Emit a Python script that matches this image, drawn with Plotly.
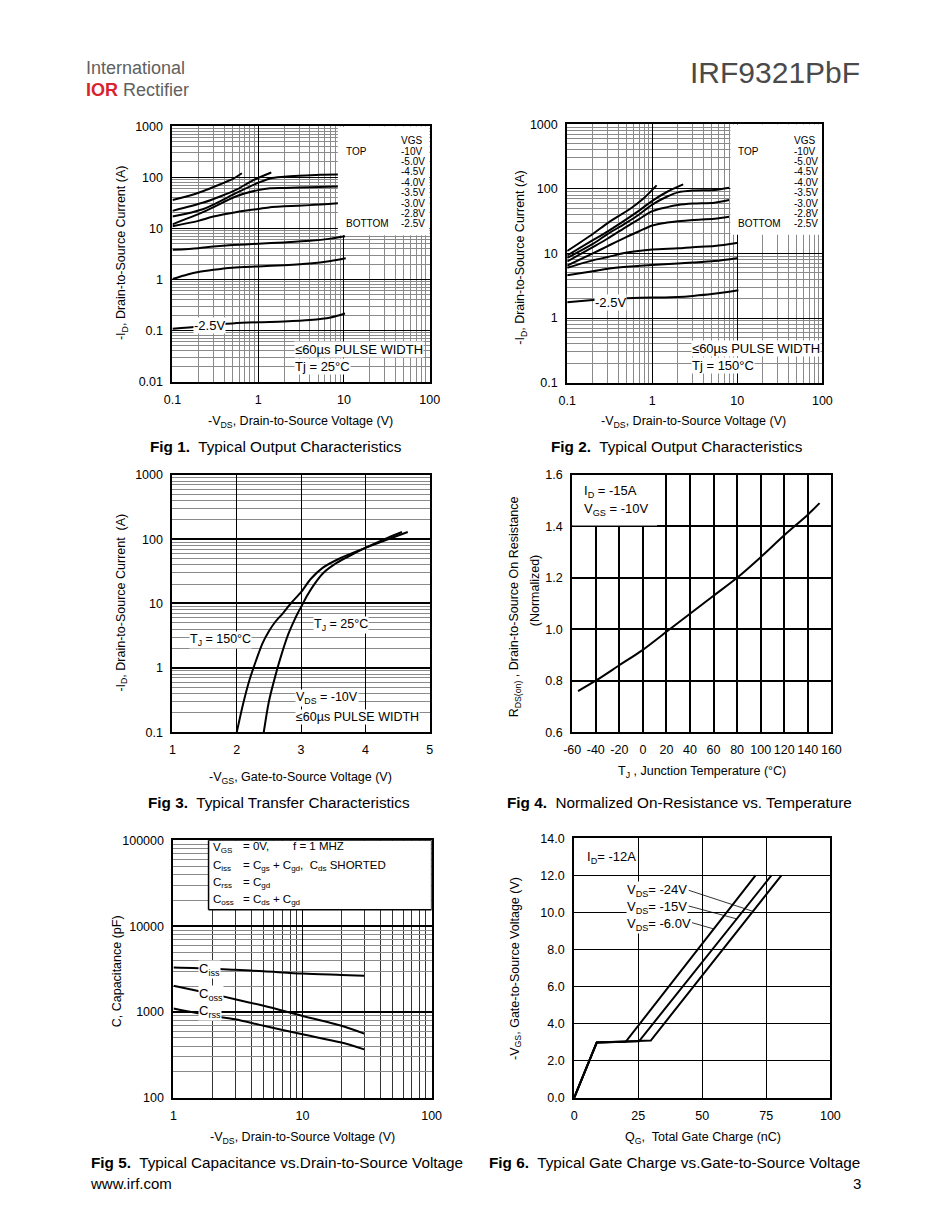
import plotly.graph_objects as go

W, H = 950, 1230
# the photographed figure lands in the page region (8..942, 8..1222);
OX, OY, SW, SH = 8, 8, 934, 1214
FONT = "Liberation Sans, Arial, sans-serif"

# ---------------- DATA ----------------
F1_VGS = ["-10V", "-5.0V", "-4.5V", "-4.0V", "-3.5V", "-3.0V", "-2.8V", "-2.5V"]
F1_VDS = [
    [0.1, 0.16, 0.23, 0.36, 0.5, 0.645],
    [0.1, 0.23, 0.36, 0.565, 0.88, 1.42],
    [0.1, 0.23, 0.565, 1.0, 1.38, 2, 3, 5.3, 8.5],
    [0.1, 0.23, 0.565, 1.0, 1.38, 2, 4, 8.5],
    [0.1, 0.2, 0.3, 0.565, 1.0, 1.38, 2, 4, 8.5],
    [0.1, 0.2, 0.3, 0.5, 1.0, 2, 4, 7, 10.3],
    [0.1, 0.15, 0.2, 0.3, 0.5, 1.0, 2, 4, 7, 10.5],
    [0.1, 0.2, 0.3, 0.5, 1.0, 2, 4, 7, 10.3],
]
F1_ID = [
    [36, 44, 54, 73, 92, 120],
    [22, 32, 42, 58, 88, 124],
    [17, 24, 50, 78, 95, 102, 107, 112, 113],
    [12, 21, 43, 56, 61, 62, 64, 66],
    [11, 14, 17, 21, 24, 26, 27, 28.5, 31],
    [3.8, 4.1, 4.4, 4.7, 5.0, 5.3, 5.7, 6.3, 7.0],
    [1.02, 1.25, 1.4, 1.55, 1.7, 1.8, 1.9, 2.05, 2.3, 2.6],
    [0.108, 0.12, 0.13, 0.138, 0.145, 0.15, 0.16, 0.18, 0.215],
]
F2_VDS = [
    [0.1, 0.2, 0.305, 0.573, 0.8, 1.125],
    [0.1, 0.2, 0.3, 0.5, 0.7, 1.0, 1.5, 2.31],
    [0.1, 0.2, 0.3, 0.5, 0.7, 1.0, 1.5, 2, 3, 5.4, 8],
    [0.1, 0.2, 0.3, 0.5, 0.7, 1.0, 1.5, 2, 3, 5.4, 8],
    [0.1, 0.2, 0.3, 0.5, 0.7, 1.0, 1.5, 2, 3, 5.4, 8],
    [0.1, 0.2, 0.3, 0.5, 1.0, 2, 3, 5.4, 10.2],
    [0.1, 0.2, 0.3, 0.5, 1.0, 2, 3, 5.4, 10.2],
    [0.1, 0.2, 0.3, 0.5, 1.0, 2, 3, 5, 10.3],
]
F2_ID = [
    [10.9, 20, 30, 51, 72, 113],
    [9.3, 16, 22, 34, 46, 65, 90, 117],
    [8.5, 14, 20, 30, 40, 57, 76, 88, 94, 96, 104],
    [7.5, 12.5, 17, 26, 34, 45, 52, 56, 59, 61, 67],
    [6.5, 10, 13, 18, 22, 27, 30, 31.5, 33, 34.5, 37],
    [6, 7.8, 8.8, 10.3, 11.5, 12, 12.5, 13, 14.6],
    [4.6, 5.3, 5.8, 6.2, 6.6, 7, 7.2, 7.6, 8.5],
    [1.75, 1.9, 2.0, 2.03, 2.07, 2.12, 2.2, 2.35, 2.7],
]
F3_VGS_25 = [2.42, 2.5, 2.6, 2.7, 2.8, 2.9, 2.95, 3.0, 3.1, 3.2, 3.35, 3.56, 3.8, 4.0, 4.3, 4.57]
F3_ID_25 = [0.1, 0.3, 0.75, 1.66, 3.3, 5.6, 7.1, 8.8, 13.5, 19.5, 30, 43, 58, 73, 100, 129]
F3_VGS_150 = [2.0, 2.1, 2.2, 2.3, 2.4, 2.5, 2.6, 2.72, 2.85, 3.0, 3.15, 3.34, 3.6, 4.0, 4.3, 4.66]
F3_ID_150 = [0.1, 0.28, 0.66, 1.3, 2.4, 3.7, 5.2, 7.1, 10.3, 15, 24, 36, 50, 73, 95, 129]
F4_TJ = [-55, -40, -20, 0, 20, 40, 60, 80, 100, 120, 140, 150]
F4_RDS = [0.76, 0.80, 0.86, 0.92, 0.99, 1.06, 1.13, 1.20, 1.28, 1.365, 1.445, 1.49]
F5_VDS = [1, 2, 3, 5, 10, 20, 30]
F5_CISS = [3300, 3200, 3100, 2980, 2800, 2700, 2640]
F5_COSS = [2020, 1620, 1410, 1180, 900, 690, 560]
F5_CRSS = [1100, 900, 825, 690, 550, 440, 367]
F6_LABELS = ["-24V", "-15V", "-6.0V"]
F6_QG = [[0, 8.8, 29.9, 80.9], [0, 8.8, 25.3, 77.0], [0, 8.8, 20.1, 70.8]]
F6_VGS = [[0, 2.98, 3.09, 12.0], [0, 2.98, 3.05, 12.0], [0, 2.98, 3.02, 12.0]]

T_OUT_X = [0.1, 1, 10, 100]; T_OUT_XT = ["0.1", "1", "10", "100"]
T_F1_Y = [0.01, 0.1, 1, 10, 100, 1000]; T_F1_YT = ["0.01", "0.1", "1", "10", "100", "1000"]
T_F2_Y = [0.1, 1, 10, 100, 1000]; T_F2_YT = ["0.1", "1", "10", "100", "1000"]
T_F3_X = [1, 2, 3, 4, 5]; T_F3_XT = ["1", "2", "3", "4", "5"]
T_F4_X = [-60, -40, -20, 0, 20, 40, 60, 80, 100, 120, 140, 160]
T_F4_XT = ["-60", "-40", "-20", "0", "20", "40", "60", "80", "100", "120", "140", "160"]
T_F4_Y = [0.6, 0.8, 1.0, 1.2, 1.4, 1.6]; T_F4_YT = ["0.6", "0.8", "1.0", "1.2", "1.4", "1.6"]
T_F5_X = [1, 10, 100]; T_F5_XT = ["1", "10", "100"]
T_F5_Y = [100, 1000, 10000, 100000]; T_F5_YT = ["100", "1000", "10000", "100000"]
T_F6_X = [0, 25, 50, 75, 100]; T_F6_XT = ["0", "25", "50", "75", "100"]
T_F6_Y = [0, 2, 4, 6, 8, 10, 12, 14]
T_F6_YT = ["0.0", "2.0", "4.0", "6.0", "8.0", "10.0", "12.0", "14.0"]

BOX1 = dict(x=[8.5, 100, 100, 8.5, 8.5], y=[7.3, 7.3, 1000, 1000, 7.3])
BOX2 = dict(x=[8.3, 100, 100, 8.3, 8.3], y=[19.5, 19.5, 1000, 1000, 19.5])
BOX4 = dict(x=[-60, 12, 12, -60, -60], y=[1.403, 1.403, 1.6, 1.6, 1.403])
BOX5 = dict(x=[1.87, 100, 100, 1.87, 1.87], y=[15500, 15500, 100000, 100000, 15500])

PAN = {1: (172, 430, 127, 382), 2: (568, 824, 125, 383), 3: (172, 430, 475, 732),
       4: (573, 833, 475, 732), 5: (173, 432, 840, 1097), 6: (575, 832, 838, 1097)}


def px(x):
    return (x - OX) / SW


def py(y):
    return 1 - (y - OY) / SH


def dx(i):
    a, b, _, _ = PAN[i]
    return [px(a), px(b)]


def dy(i):
    _, _, a, b = PAN[i]
    return [py(b), py(a)]


TF = dict(family=FONT, size=12.5, color="black")
BASE = dict(showline=True, linewidth=2, linecolor="black", mirror=True,
            ticks="outside", ticklen=5, tickcolor="rgba(0,0,0,0)",
            showgrid=True, gridcolor="black", gridwidth=1, zeroline=False,
            tickfont=TF, fixedrange=True, tickmode="array")


def logax(rng, vals, texts, anchor, dom, gw=1.0, mcol="#8a8a8a"):
    d = dict(BASE)
    d.update(domain=dom, anchor=anchor, type="log", range=rng,
             tickvals=vals, ticktext=texts, gridwidth=gw,
             minor=dict(showgrid=True, gridcolor=mcol, gridwidth=0.7, dtick="D1", ticks=""))
    return d


def linax(rng, vals, texts, anchor, dom, gw=1.0):
    d = dict(BASE)
    d.update(domain=dom, anchor=anchor, range=rng, tickvals=vals, ticktext=texts, gridwidth=gw)
    return d


fig = go.Figure()
LINE = dict(color="black", width=2)
SPL = dict(color="black", width=2, shape="spline", smoothing=0.8)


def box(b, xa, ya, border=0):
    fig.add_trace(go.Scatter(x=b["x"], y=b["y"], mode="lines", fill="toself", fillcolor="white",
                             line=dict(color="black" if border else "white", width=border if border else 0.1),
                             xaxis=xa, yaxis=ya, showlegend=False, hoverinfo="skip"))


box(BOX1, "x", "y")
box(BOX2, "x2", "y2")
box(BOX4, "x4", "y4")
box(BOX5, "x5", "y5", border=1.5)

for xs, ys in zip(F1_VDS, F1_ID):
    fig.add_trace(go.Scatter(x=xs, y=ys, mode="lines", line=SPL,
                             xaxis="x", yaxis="y", showlegend=False, hoverinfo="skip"))
for xs, ys in zip(F2_VDS, F2_ID):
    fig.add_trace(go.Scatter(x=xs, y=ys, mode="lines", line=SPL,
                             xaxis="x2", yaxis="y2", showlegend=False, hoverinfo="skip"))
fig.add_trace(go.Scatter(x=F3_VGS_25, y=F3_ID_25, mode="lines", line=SPL,
                         xaxis="x3", yaxis="y3", showlegend=False, hoverinfo="skip"))
fig.add_trace(go.Scatter(x=F3_VGS_150, y=F3_ID_150, mode="lines", line=SPL,
                         xaxis="x3", yaxis="y3", showlegend=False, hoverinfo="skip"))
fig.add_trace(go.Scatter(x=F4_TJ, y=F4_RDS, mode="lines", line=SPL,
                         xaxis="x4", yaxis="y4", showlegend=False, hoverinfo="skip"))
for ys in (F5_CISS, F5_COSS, F5_CRSS):
    fig.add_trace(go.Scatter(x=F5_VDS, y=ys, mode="lines", line=SPL,
                             xaxis="x5", yaxis="y5", showlegend=False, hoverinfo="skip"))
for xs, ys in zip(F6_QG, F6_VGS):
    fig.add_trace(go.Scatter(x=xs, y=ys, mode="lines", line=LINE,
                             xaxis="x6", yaxis="y6", showlegend=False, hoverinfo="skip"))

fig.update_layout(
    width=W, height=H, margin=dict(l=0, r=0, t=0, b=0),
    paper_bgcolor="white", plot_bgcolor="white", showlegend=False,
    font=dict(family=FONT, color="black"),
    xaxis=logax([-1, 2], T_OUT_X, T_OUT_XT, "y", dx(1)),
    yaxis=logax([-2, 3], T_F1_Y, T_F1_YT, "x", dy(1)),
    xaxis2=logax([-1, 2], T_OUT_X, T_OUT_XT, "y2", dx(2)),
    yaxis2=logax([-1, 3], T_F2_Y, T_F2_YT, "x2", dy(2)),
    xaxis3=linax([1, 5], T_F3_X, T_F3_XT, "y3", dx(3), gw=1.2),
    yaxis3=logax([-1, 3], T_F2_Y, T_F2_YT, "x3", dy(3), gw=2),
    xaxis4=linax([-60, 160], T_F4_X, T_F4_XT, "y4", dx(4), gw=1.5),
    yaxis4=linax([0.6, 1.6], T_F4_Y, T_F4_YT, "x4", dy(4), gw=1.5),
    xaxis5=logax([0, 2], T_F5_X, T_F5_XT, "y5", dx(5), mcol="#333333"),
    yaxis5=logax([2, 5], T_F5_Y, T_F5_YT, "x5", dy(5), gw=1.5),
    xaxis6=linax([0, 100], T_F6_X, T_F6_XT, "y6", dx(6), gw=1),
    yaxis6=linax([0, 14], T_F6_Y, T_F6_YT, "x6", dy(6), gw=1),
)

shapes = []
for (x0, y0, x1, y1) in [(44.7, 11.2, 69.6, 10.07), (44.7, 10.35, 63.3, 9.66), (46.0, 9.45, 54.3, 9.12)]:
    shapes.append(dict(type="line", xref="x6", yref="y6", x0=x0, y0=y0, x1=x1, y1=y1,
                       line=dict(color="black", width=0.8)))
fig.update_layout(shapes=shapes)

ann = []


def A(x, y, text, size=12.5, xa="left", ya="middle", angle=0, bg=None, color="black"):
    d = dict(xref="paper", yref="paper", x=px(x), y=py(y), text=text, showarrow=False,
             xanchor=xa, yanchor=ya, textangle=angle, font=dict(size=size, color=color, family=FONT),
             borderpad=0)
    if bg:
        d["bgcolor"] = bg
    ann.append(d)


A(84, 69, "International", size=18, color="#606060")
A(84, 91, "<b><span style='color:#d9232e'>IOR</span></b> Rectifier", size=18, color="#606060")
A(863, 73, "IRF9321PbF", size=30, xa="right", color="#4a4a4a")
A(88, 1183, "www.irf.com", size=15)
A(864, 1183, "3", size=15, xa="right")

for (tx, vx) in [(345, 400), (738, 795)]:
    A(vx, 141, "VGS", size=10)
    A(tx, 152, "TOP", size=10)
    A(tx, 224.5, "BOTTOM", size=10)
    for k, lab in enumerate(F1_VGS):
        A(vx, 152 + k * 10.35, lab, size=10)

CAP = 15.3
A(193, 326, "-2.5V", size=13, bg="white")
A(294, 350, "\u226460\u00b5s PULSE WIDTH", size=13, bg="white")
A(294, 367, "Tj = 25\u00b0C", size=13, bg="white")
A(122, 254, "-I<sub>D</sub>, Drain-to-Source Current (A)", xa="center", angle=-90)
A(300, 422, "-V<sub>DS</sub>, Drain-to-Source Voltage (V)", xa="center")
A(148, 447, "<b>Fig 1.</b>  Typical Output Characteristics", size=CAP)

A(595, 303, "-2.5V", size=13, bg="white")
A(692, 349, "\u226460\u00b5s PULSE WIDTH", size=13, bg="white")
A(692, 366, "Tj = 150\u00b0C", size=13, bg="white")
A(522, 258, "-I<sub>D</sub>, Drain-to-Source Current (A)", xa="center", angle=-90)
A(695, 422, "-V<sub>DS</sub>, Drain-to-Source Voltage (V)", xa="center")
A(551, 447, "<b>Fig 2.</b>  Typical Output Characteristics", size=CAP)

A(189, 640, "T<sub>J</sub> = 150\u00b0C", size=12.5, bg="white")
A(313, 625, "T<sub>J</sub> = 25\u00b0C", size=12.5, bg="white")
A(295, 698, "V<sub>DS</sub> = -10V", size=12.5, bg="white")
A(295, 717, "\u226460\u00b5s PULSE WIDTH", size=12.5, bg="white")
A(121, 603, "-I<sub>D</sub>, Drain-to-Source Current  (A)", xa="center", angle=-90)
A(300, 778, "-V<sub>GS</sub>, Gate-to-Source Voltage (V)", xa="center")
A(146, 802, "<b>Fig 3.</b>  Typical Transfer Characteristics", size=CAP)

A(584, 492, "I<sub>D</sub> = -15A", size=13)
A(584, 510, "V<sub>GS</sub> = -10V", size=13)
A(516, 607, "R<sub>DS(on)</sub> , Drain-to-Source On Resistance", xa="center", angle=-90)
A(536, 590, "(Normalized)", xa="center", angle=-90)
A(703, 772, "T<sub>J</sub> , Junction Temperature (\u00b0C)", xa="center")
A(507, 802, "<b>Fig 4.</b>  Normalized On-Resistance vs. Temperature", size=CAP)

FS5 = 11.5
A(212, 848, "V<sub>GS</sub>", size=FS5)
A(242, 846, "= 0V,", size=FS5)
A(292, 846, "f = 1 MHZ", size=FS5)
A(212, 866, "C<sub>iss</sub>", size=FS5)
A(242, 866, "= C<sub>gs</sub> + C<sub>gd</sub>,  C<sub>ds</sub> SHORTED", size=FS5)
A(212, 883, "C<sub>rss</sub>", size=FS5)
A(242, 883, "= C<sub>gd</sub>", size=FS5)
A(212, 900, "C<sub>oss</sub>", size=FS5)
A(242, 900, "= C<sub>ds</sub> + C<sub>gd</sub>", size=FS5)
A(198, 969, "C<sub>iss</sub>", size=13, bg="white")
A(198, 994, "C<sub>oss</sub>", size=13, bg="white")
A(198, 1011, "C<sub>rss</sub>", size=13, bg="white")
A(116, 971, "C, Capacitance (pF)", xa="center", angle=-90)
A(302, 1137, "-V<sub>DS</sub>, Drain-to-Source Voltage (V)", xa="center")
A(89, 1162, "<b>Fig 5.</b>  Typical Capacitance vs.Drain-to-Source Voltage", size=CAP)

A(587, 857, "I<sub>D</sub>= -12A", size=13)
for lab, yy in zip(F6_LABELS, [890, 907, 924]):
    A(627, yy, "V<sub>DS</sub>= " + lab, size=13, bg="white")
A(516, 968, "-V<sub>GS</sub>, Gate-to-Source Voltage (V)", xa="center", angle=-90)
A(704, 1137, "Q<sub>G</sub>,  Total Gate Charge (nC)", xa="center")
A(489, 1162, "<b>Fig 6.</b>  Typical Gate Charge vs.Gate-to-Source Voltage", size=CAP)

fig.update_layout(annotations=ann)
fig.write_html("out.html", config={"displayModeBar": False},
               post_script="document.body.style.margin='0';"
                           "document.documentElement.style.overflow='hidden';")
